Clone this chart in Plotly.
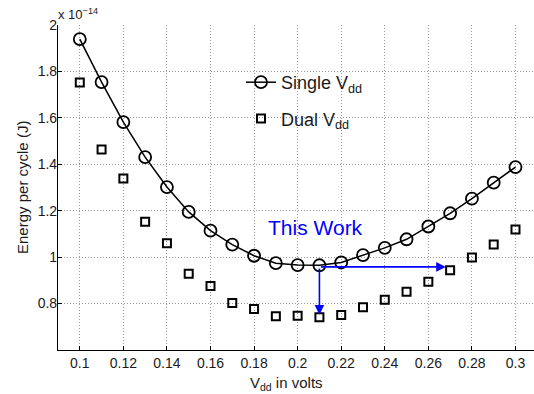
import plotly.graph_objects as go

vdd = [0.10, 0.11, 0.12, 0.13, 0.14, 0.15, 0.16, 0.17, 0.18, 0.19, 0.20,
       0.21, 0.22, 0.23, 0.24, 0.25, 0.26, 0.27, 0.28, 0.29, 0.30]
single_vdd = [1.939, 1.754, 1.582, 1.431, 1.302, 1.195, 1.114, 1.054, 1.006, 0.974, 0.966,
              0.965, 0.977, 1.009, 1.040, 1.077, 1.132, 1.189, 1.252, 1.321, 1.388]
dual_vdd = [1.752, 1.464, 1.339, 1.153, 1.060, 0.928, 0.876, 0.803, 0.777, 0.745, 0.748,
            0.741, 0.751, 0.784, 0.817, 0.851, 0.894, 0.944, 0.999, 1.054, 1.119]

x_ticks = [0.10, 0.12, 0.14, 0.16, 0.18, 0.20, 0.22, 0.24, 0.26, 0.28, 0.30]
x_ticklabels = ["0.1", "0.12", "0.14", "0.16", "0.18", "0.2", "0.22", "0.24", "0.26", "0.28", "0.3"]
y_ticks = [0.8, 1.0, 1.2, 1.4, 1.6, 1.8, 2.0]
y_ticklabels = ["0.8", "1", "1.2", "1.4", "1.6", "1.8", "2"]

arrow_start = (0.21, 0.958)
arrow_h_end = (0.268, 0.958)
arrow_v_end = (0.21, 0.752)
label_pos = (0.1857, 1.127)

FONT = "Liberation Sans, Arial, Helvetica, sans-serif"
TXT = "#1a1a1a"

fig = go.Figure()
fig.add_trace(go.Scatter(
    x=vdd, y=single_vdd, mode="lines+markers", name="Single V<sub>dd</sub>",
    line=dict(color="black", width=1.5),
    marker=dict(symbol="circle-open", size=12, color="black", line=dict(width=1.8)),
    legendgroup="a",
))
fig.add_trace(go.Scatter(
    x=vdd, y=dual_vdd, mode="markers", name="Dual V<sub>dd</sub>",
    marker=dict(symbol="square-open", size=8, color="black", line=dict(width=2)),
    legendgroup="b",
))

# arrows
for end in (arrow_h_end, arrow_v_end):
    fig.add_annotation(x=end[0], y=end[1], ax=arrow_start[0], ay=arrow_start[1],
                       xref="x", yref="y", axref="x", ayref="y", text="", showarrow=True,
                       arrowhead=2, arrowsize=1.2, arrowwidth=1.6, arrowcolor="#0000ff")
fig.add_annotation(x=label_pos[0], y=label_pos[1], xref="x", yref="y", text="This Work",
                   showarrow=False, xanchor="left", yanchor="middle",
                   font=dict(family=FONT, size=21, color="#0000ff"))

# exponent
fig.add_annotation(x=0, y=1, xref="paper", yref="paper", text="x 10<sup>\u221214</sup>",
                   showarrow=False, xanchor="left", yanchor="bottom", xshift=-2, yshift=1,
                   font=dict(family=FONT, size=13, color=TXT))
# axis titles
fig.add_annotation(x=(286 - 58) / 476, y=-(372 - 350) / 325, xref="paper", yref="paper",
                   text="V<sub>dd</sub> in volts", showarrow=False, xanchor="center", yanchor="top",
                   font=dict(family=FONT, size=15, color=TXT))
fig.add_annotation(x=(33 - 58) / 476, y=0.5, xref="paper", yref="paper",
                   text="Energy per cycle (J)", showarrow=False, textangle=-90,
                   xanchor="right", yanchor="middle",
                   font=dict(family=FONT, size=15, color=TXT))

axis_common = dict(showgrid=True, gridcolor="#9a9a9a", griddash="1px,2px", gridwidth=1,
                   zeroline=False, showline=True, linecolor="black", linewidth=1.2,
                   ticks="inside", ticklen=4, tickcolor="black",
                   tickfont=dict(family=FONT, size=14, color=TXT))
fig.update_xaxes(range=[0.09, 0.09 + 476 / 2178.5], tickvals=x_ticks, ticktext=x_ticklabels,
                 **axis_common)
fig.update_yaxes(range=[0.6, 2.0], tickvals=y_ticks, ticktext=y_ticklabels,
                 ticklabelstandoff=-3, **axis_common)

fig.update_layout(
    width=534, height=394, autosize=False,
    margin=dict(l=58, r=0, t=25, b=44),
    paper_bgcolor="white", plot_bgcolor="white",
    showlegend=True,
    legend=dict(x=(241 - 58) / 476, y=1 - (64 - 25) / 325, xanchor="left", yanchor="top",
                bgcolor="rgba(0,0,0,0)", borderwidth=0, tracegroupgap=10,
                traceorder="grouped",
                font=dict(family=FONT, size=18, color=TXT)),
)

fig.write_html("out.html", config={"displayModeBar": False},
               post_script="document.body.style.margin='0';")
